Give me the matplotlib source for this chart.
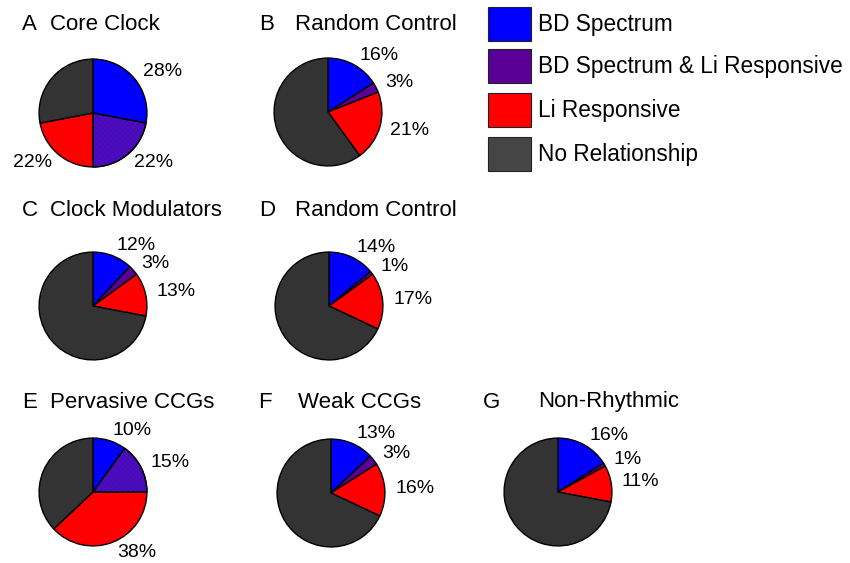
import numpy as np
import matplotlib.pyplot as plt
from matplotlib.patches import Rectangle, Wedge

plt.rcParams['font.family'] = ['Liberation Sans', 'DejaVu Sans']

# data
letters = ['A', 'B', 'C', 'D', 'E', 'F', 'G']
titles = ['Core Clock', 'Random Control', 'Clock Modulators', 'Random Control',
          'Pervasive CCGs', 'Weak CCGs', 'Non-Rhythmic']
bd_spectrum = [28, 16, 12, 14, 10, 13, 16]
bd_and_li = [22, 3, 3, 1, 15, 3, 1]
li_responsive = [22, 21, 13, 17, 38, 16, 11]
hatched = [True, False, False, False, True, False, False]
categories = ['BD Spectrum', 'BD Spectrum & Li Responsive', 'Li Responsive', 'No Relationship']

colors = ['#0000ff', '#5a0096', '#ff0000', '#333333']
legend_colors = ['#0000ff', '#5a0096', '#ff0000', '#454545']

W, H = 850, 563
fig = plt.figure(figsize=(W / 100, H / 100), dpi=100)

# layout in pixels (centre of each pie, title letter x, title text x, title y)
centers = [(93, 113), (328, 112), (93, 306), (329, 306), (93, 492), (331, 493), (558, 492)]
letter_x = [22, 259, 22, 259, 22, 258, 483]
name_x = [50, 295, 50, 295, 50, 298, 538]
title_y = [25, 25, 210, 210, 402, 402, 402]
R = 55


def fx(x):
    return x / W


def fy(y):
    return 1 - y / H


for i in range(len(letters)):
    cx, cy = centers[i]
    ax = fig.add_axes([fx(cx - R), fy(cy + R), 2 * R / W, 2 * R / H])
    vals = [bd_spectrum[i], bd_and_li[i], li_responsive[i]]
    vals.append(100 - sum(vals))
    labels = ['%d%%' % v for v in vals[:3]] + ['']
    wedges, texts = ax.pie(vals, colors=colors, startangle=90, counterclock=False,
                           labels=labels, labeldistance=1.2,
                           wedgeprops=dict(edgecolor='black', linewidth=1),
                           textprops=dict(fontsize=14))
    if hatched[i]:
        w = wedges[1]
        w.set_facecolor('#6400a8')
        ax.add_patch(Wedge(w.center, w.r, w.theta1, w.theta2, fill=False,
                           hatch='xxxxxx', edgecolor='#3a14c8', linewidth=0))
        ax.add_patch(Wedge(w.center, w.r, w.theta1, w.theta2, fill=False,
                           edgecolor='black', linewidth=1))
    ax.set_xlim(-1.02, 1.02)
    ax.set_ylim(-1.02, 1.02)
    ax.set_aspect('equal')
    ax.axis('off')

    fig.text(fx(letter_x[i]), fy(title_y[i]), letters[i], fontsize=16, va='center', ha='left')
    fig.text(fx(name_x[i]), fy(title_y[i]), titles[i], fontsize=16, va='center', ha='left')

# legend
leg_y = [24, 66, 110, 154]
for c, lab, y in zip(legend_colors, categories, leg_y):
    fig.patches.append(Rectangle((fx(488), fy(y + 17)), 43 / W, 34 / H,
                                 facecolor=c, edgecolor='#222222', linewidth=0.8,
                                 transform=fig.transFigure, figure=fig))
    fig.text(fx(538), fy(y), lab, fontsize=16.3, va='center', ha='left')

fig.savefig('out.png', dpi=100)
